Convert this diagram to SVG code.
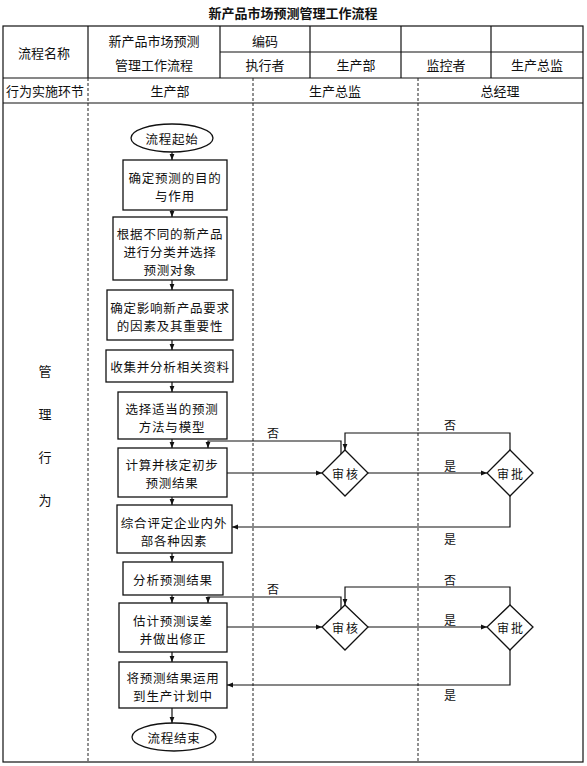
<svg xmlns="http://www.w3.org/2000/svg" width="587" height="766" viewBox="0 0 587 766">
<style>
text{font-family:"Noto Sans CJK SC","Noto Sans",sans-serif;fill:#111;text-anchor:middle;dominant-baseline:central}
.t{font-size:13px}
.title{font-size:13px;font-weight:bold}
.n{font-size:12.5px;letter-spacing:0.8px}
.l{font-size:12px}
.dl{font-size:12px;letter-spacing:2px}
.frame{fill:none;stroke:#111;stroke-width:1.2}
.dot{stroke:#222;stroke-width:1;stroke-dasharray:3 2;fill:none}
.box{fill:#fff;stroke:#111;stroke-width:1.3}
.c{fill:none;stroke:#111;stroke-width:1.2}
</style>
<defs>
<marker id="a" viewBox="0 0 10 10" refX="10" refY="5" markerWidth="6" markerHeight="6" orient="auto" markerUnits="userSpaceOnUse">
<path d="M0,1 L10,5 L0,9 z" fill="#111"/>
</marker>
</defs>
<rect width="587" height="766" fill="#fff"/>
<text class="title" x="293" y="12">新产品市场预测管理工作流程</text>
<g id="table">
<rect class="frame" x="3" y="26" width="580" height="736"/>
<line class="frame" x1="3" y1="78" x2="583" y2="78"/>
<line class="frame" x1="3" y1="103" x2="583" y2="103"/>
<line class="frame" x1="220" y1="52" x2="583" y2="52"/>
<line class="frame" x1="88" y1="26" x2="88" y2="78"/>
<line class="frame" x1="220" y1="26" x2="220" y2="78"/>
<line class="frame" x1="310" y1="26" x2="310" y2="78"/>
<line class="frame" x1="401" y1="26" x2="401" y2="78"/>
<line class="frame" x1="491" y1="26" x2="491" y2="78"/>
<line class="dot" x1="88" y1="78" x2="88" y2="762"/>
<line class="dot" x1="253" y1="78" x2="253" y2="762"/>
<line class="dot" x1="418" y1="78" x2="418" y2="762"/>
<text class="t" x="44" y="52">流程名称</text>
<text class="t" x="154" y="40">新产品市场预测</text>
<text class="t" x="154" y="64">管理工作流程</text>
<text class="t" x="265" y="40">编码</text>
<text class="t" x="265" y="64">执行者</text>
<text class="t" x="356" y="64">生产部</text>
<text class="t" x="446" y="64">监控者</text>
<text class="t" x="537" y="64">生产总监</text>
<text class="t" x="45" y="90">行为实施环节</text>
<text class="t" x="170" y="90">生产部</text>
<text class="t" x="335" y="90">生产总监</text>
<text class="t" x="500" y="90">总经理</text>
<text class="t" x="45" y="370">管</text>
<text class="t" x="45" y="413">理</text>
<text class="t" x="45" y="456">行</text>
<text class="t" x="45" y="499">为</text>
</g>
<g id="connectors">
<line class="c" x1="172" y1="152" x2="172" y2="160" marker-end="url(#a)"/>
<line class="c" x1="172" y1="210" x2="172" y2="217" marker-end="url(#a)"/>
<line class="c" x1="172" y1="280" x2="172" y2="290" marker-end="url(#a)"/>
<line class="c" x1="172" y1="340" x2="172" y2="350" marker-end="url(#a)"/>
<line class="c" x1="172" y1="382" x2="172" y2="392" marker-end="url(#a)"/>
<line class="c" x1="172" y1="439" x2="172" y2="448" marker-end="url(#a)"/>
<line class="c" x1="172" y1="497" x2="172" y2="505" marker-end="url(#a)"/>
<line class="c" x1="172" y1="553" x2="172" y2="562" marker-end="url(#a)"/>
<line class="c" x1="172" y1="595" x2="172" y2="603" marker-end="url(#a)"/>
<line class="c" x1="172" y1="652" x2="172" y2="662" marker-end="url(#a)"/>
<line class="c" x1="172" y1="708" x2="172" y2="723" marker-end="url(#a)"/>
<line class="c" x1="227" y1="473" x2="322" y2="473" marker-end="url(#a)"/>
<line class="c" x1="368" y1="473" x2="487" y2="473" marker-end="url(#a)"/>
<polyline class="c" points="341,454 341,441 208,441 208,448" marker-end="url(#a)"/>
<polyline class="c" points="510,450 510,433 345,433 345,450" marker-end="url(#a)"/>
<polyline class="c" points="510,496 510,527 232,527" marker-end="url(#a)"/>
<text class="l" x="273" y="432">否</text>
<text class="l" x="450" y="424">否</text>
<text class="l" x="450" y="465">是</text>
<text class="l" x="450" y="538">是</text>
<line class="c" x1="227" y1="627" x2="322" y2="627" marker-end="url(#a)"/>
<line class="c" x1="368" y1="627" x2="487" y2="627" marker-end="url(#a)"/>
<polyline class="c" points="341,609 341,597 208,597 208,603" marker-end="url(#a)"/>
<polyline class="c" points="510,605 510,587 345,587 345,605" marker-end="url(#a)"/>
<polyline class="c" points="510,650 510,685 227,685" marker-end="url(#a)"/>
<text class="l" x="273" y="588">否</text>
<text class="l" x="450" y="579">否</text>
<text class="l" x="450" y="619">是</text>
<text class="l" x="450" y="694">是</text>
</g>
<g id="start"><ellipse class="box" cx="172" cy="138" rx="41" ry="14"/><text class="n" x="172" y="138">流程起始</text></g>
<g id="n1"><rect class="box" x="123" y="160" width="104" height="50"/><text class="n" x="175" y="177">确定预测的目的</text><text class="n" x="175" y="195">与作用</text></g>
<g id="n2"><rect class="box" x="113" y="217" width="114" height="63"/><text class="n" x="170" y="233">根据不同的新产品</text><text class="n" x="170" y="251">进行分类并选择</text><text class="n" x="170" y="269">预测对象</text></g>
<g id="n3"><rect class="box" x="107" y="290" width="126" height="50"/><text class="n" x="170" y="307">确定影响新产品要求</text><text class="n" x="170" y="325">的因素及其重要性</text></g>
<g id="n4"><rect class="box" x="106" y="350" width="127" height="32"/><text class="n" x="170" y="366">收集并分析相关资料</text></g>
<g id="n5"><rect class="box" x="118" y="392" width="109" height="47"/><text class="n" x="172" y="408">选择适当的预测</text><text class="n" x="172" y="426">方法与模型</text></g>
<g id="n6"><rect class="box" x="118" y="448" width="109" height="49"/><text class="n" x="172" y="464">计算并核定初步</text><text class="n" x="172" y="482">预测结果</text></g>
<g id="n7"><rect class="box" x="117" y="505" width="115" height="48"/><text class="n" x="174" y="522">综合评定企业内外</text><text class="n" x="174" y="540">部各种因素</text></g>
<g id="n8"><rect class="box" x="123" y="562" width="100" height="33"/><text class="n" x="173" y="579">分析预测结果</text></g>
<g id="n9"><rect class="box" x="119" y="603" width="108" height="49"/><text class="n" x="173" y="620">估计预测误差</text><text class="n" x="173" y="638">并做出修正</text></g>
<g id="n10"><rect class="box" x="119" y="662" width="108" height="46"/><text class="n" x="173" y="677">将预测结果运用</text><text class="n" x="173" y="695">到生产计划中</text></g>
<g id="end"><ellipse class="box" cx="174" cy="737" rx="42" ry="14"/><text class="n" x="174" y="737">流程结束</text></g>
<g id="d1"><polygon class="box" points="345,450 368,473 345,496 322,473"/><text class="dl" x="346" y="473">审核</text></g>
<g id="d2"><polygon class="box" points="510,450 533,473 510,496 487,473"/><text class="dl" x="511" y="473">审批</text></g>
<g id="d3"><polygon class="box" points="345,605 368,627 345,650 322,627"/><text class="dl" x="346" y="627">审核</text></g>
<g id="d4"><polygon class="box" points="510,605 533,627 510,650 487,627"/><text class="dl" x="511" y="627">审批</text></g>
</svg>
